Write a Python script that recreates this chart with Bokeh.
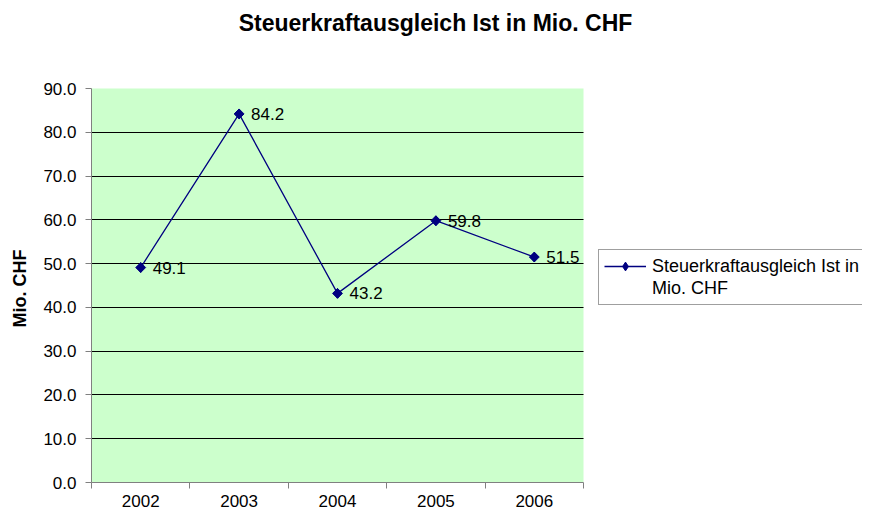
import math
from bokeh.plotting import figure
from bokeh.models import (FixedTicker, Legend, LegendItem, ColumnDataSource,
                          LabelSet, CustomJSTickFormatter, Label, BoxAnnotation, Title)
from bokeh.core.properties import value
from bokeh.embed import file_html
from bokeh.resources import INLINE

years = ["2002", "2003", "2004", "2005", "2006"]
values = [49.1, 84.2, 43.2, 59.8, 51.5]
y_ticks = [0, 10, 20, 30, 40, 50, 60, 70, 80, 90]
title_text = "Steuerkraftausgleich Ist in Mio. CHF"
y_label = "Mio. CHF"
legend_lines = ["Steuerkraftausgleich Ist in", "Mio. CHF"]

FONT = "Liberation Sans"
NAVY = "#000080"

W, H = 862, 509
LEFT, TOP_PLOT, BOTTOM = 91, 88, 27
PLOT_W = 492

n = len(years)
ymax = y_ticks[-1]
xs = [i + 0.5 for i in range(n)]
src = ColumnDataSource(dict(x=xs, y=values, lab=["%.1f" % v for v in values]))

frame_h = H - BOTTOM
px_y = (frame_h - TOP_PLOT) / ymax          # pixels per y unit
px_x = PLOT_W / n                            # pixels per x unit
y_end = ymax + TOP_PLOT / px_y
x_end = (W - LEFT) / px_x

p = figure(width=W, height=H, output_backend="svg", toolbar_location=None,
           x_range=(0, x_end), y_range=(0, y_end),
           min_border_left=LEFT, min_border_top=0, min_border_right=0,
           min_border_bottom=BOTTOM)
p.outline_line_color = None
p.background_fill_color = "white"
p.border_fill_color = "white"

plot_bg = BoxAnnotation(left=0, right=n, bottom=0, top=ymax,
                        fill_color="#CCFFCC", fill_alpha=1, line_color=None,
                        level="image")
p.add_layout(plot_bg)

# x axis
p.xaxis.bounds = (0, n)
p.xaxis.ticker = FixedTicker(ticks=xs, minor_ticks=list(range(n + 1)))
p.xaxis.major_label_overrides = {x: y for x, y in zip(xs, years)}
p.xaxis.major_tick_line_color = None
p.xaxis.major_tick_out = 0
p.xaxis.major_tick_in = 0
p.xaxis.minor_tick_line_color = "#808080"
p.xaxis.minor_tick_out = 6
p.xaxis.minor_tick_in = 0
p.xaxis.axis_line_color = "#808080"
p.xaxis.major_label_text_font = FONT
p.xaxis.major_label_text_font_size = "17px"
p.xaxis.major_label_text_color = "black"
p.xaxis.major_label_standoff = 6
p.xgrid.grid_line_color = None

# y axis
p.yaxis.bounds = (0, ymax)
p.yaxis.ticker = FixedTicker(ticks=y_ticks)
p.yaxis.formatter = CustomJSTickFormatter(code="return tick.toFixed(1);")
p.yaxis.major_tick_out = 6
p.yaxis.major_tick_in = 0
p.yaxis.major_tick_line_color = "#808080"
p.yaxis.minor_tick_line_color = None
p.yaxis.axis_line_color = "#808080"
p.yaxis.major_label_text_font = FONT
p.yaxis.major_label_text_font_size = "17px"
p.yaxis.major_label_text_color = "black"
p.yaxis.major_label_standoff = 9
p.ygrid.ticker = FixedTicker(ticks=y_ticks[1:-1])
p.ygrid.bounds = (0, ymax)
p.ygrid.grid_line_color = "black"
p.ygrid.grid_line_width = 1
p.ygrid.cross_bounds = (0, n)

# y axis title, centred on the plotting area (not on the whole frame)
ytitle = Title(text=y_label, align="left", offset=482 - 327, vertical_align="top",
               standoff=17, text_font=FONT, text_font_style="bold",
               text_font_size="18px", text_color="black")
p.add_layout(ytitle, "left")

line_r = p.line("x", "y", source=src, line_color=NAVY, line_width=1.3)
# diamond glyph (used by the legend), drawn under the 45° squares
leg_mark = p.scatter("x", "y", source=src, marker="diamond", size=9.6,
                     fill_color=NAVY, line_color=NAVY)
mark_r = p.scatter("x", "y", source=src, marker="square", size=7, angle=math.pi / 4,
                   fill_color=NAVY, line_color=NAVY)

labels = LabelSet(x="x", y="y", text="lab", source=src, x_offset=12, y_offset=0,
                  text_baseline="middle", text_font=value(FONT),
                  text_font_size=value("17px"), text_color="black")
p.add_layout(labels)

title = Label(x=(435 - LEFT) / px_x, y=(frame_h - 22) / px_y, text=title_text,
              text_align="center", text_baseline="middle", text_font=FONT,
              text_font_style="bold", text_font_size="23px", text_color="black")
p.add_layout(title)

dummy = p.line(x=[], y=[], line_alpha=0)
legend = Legend(items=[LegendItem(label=legend_lines[0], renderers=[line_r, leg_mark]),
                       LegendItem(label=legend_lines[1], renderers=[dummy])],
                location=(598 - LEFT, frame_h - 305), orientation="vertical",
                label_text_font=FONT, label_text_font_size="18px",
                label_text_color="black", label_height=22, glyph_height=22,
                glyph_width=42, label_standoff=6, padding=5, spacing=0,
                margin=0, border_line_color="#404040", border_line_width=1,
                background_fill_color="white", background_fill_alpha=1)
p.add_layout(legend)

open("out.html", "w").write(file_html(p, INLINE))
